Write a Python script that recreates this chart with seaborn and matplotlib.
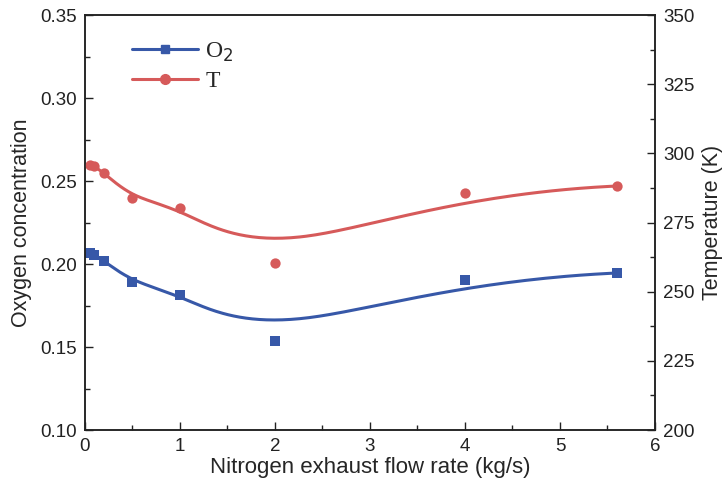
import numpy as np
import pandas as pd
import matplotlib
matplotlib.use("Agg")
import matplotlib.pyplot as plt
import seaborn as sns
from matplotlib.lines import Line2D
from matplotlib.ticker import MultipleLocator, FormatStrFormatter

# data
flow = [0.05, 0.1, 0.2, 0.5, 1.0, 2.0, 4.0, 5.6]
o2 = [0.2066, 0.2055, 0.2018, 0.1893, 0.1813, 0.1538, 0.1904, 0.1946]
temp = [295.8, 295.3, 293.0, 283.9, 280.2, 260.5, 285.7, 288.2]

blue = "#3758a8"
red = "#d65a5a"


def bspline(px, py, k=3, num=300):
    # clamped uniform B-spline with the data points as control points (Origin style "B-Spline" line)
    p = np.column_stack([px, py])
    n = len(p)
    knots = np.concatenate([np.zeros(k), np.arange(n - k + 1), np.full(k, n - k)]).astype(float)
    t = np.linspace(0, n - k, num)
    t[-1] -= 1e-9
    B = np.zeros((num, len(knots) - 1))
    for i in range(len(knots) - 1):
        B[:, i] = (knots[i] <= t) & (t < knots[i + 1])
    for d in range(1, k + 1):
        Bn = np.zeros((num, len(knots) - 1 - d))
        for i in range(len(knots) - 1 - d):
            a = knots[i + d] - knots[i]
            b = knots[i + d + 1] - knots[i + 1]
            left = (t - knots[i]) / a * B[:, i] if a > 0 else 0
            right = (knots[i + d + 1] - t) / b * B[:, i + 1] if b > 0 else 0
            Bn[:, i] = left + right
        B = Bn
    c = B @ p
    return pd.DataFrame({"x": c[:, 0], "y": c[:, 1]})


sns.set_style("ticks")
plt.rcParams["font.family"] = ["Liberation Sans", "DejaVu Sans"]

fig = plt.figure(figsize=(7.22, 4.9), dpi=100)
ax = fig.add_axes([0.1177, 0.1224, 0.7895, 0.8469])
ax2 = ax.twinx()

c1 = bspline(flow, o2)
c2 = bspline(flow, temp)
sns.lineplot(data=c1, x="x", y="y", sort=False, ax=ax, color=blue, lw=2.2)
sns.scatterplot(x=flow, y=o2, ax=ax, color=blue, marker="s", s=45, linewidth=0)
sns.lineplot(data=c2, x="x", y="y", sort=False, ax=ax2, color=red, lw=2.2)
sns.scatterplot(x=flow, y=temp, ax=ax2, color=red, marker="o", s=55, linewidth=0)

ax.set_xlim(0, 6)
ax.set_ylim(0.10, 0.35)
ax2.set_ylim(200, 350)
ax.xaxis.set_major_locator(MultipleLocator(1))
ax.xaxis.set_minor_locator(MultipleLocator(0.5))
ax.yaxis.set_major_locator(MultipleLocator(0.05))
ax.yaxis.set_minor_locator(MultipleLocator(0.025))
ax2.yaxis.set_major_locator(MultipleLocator(25))
ax2.yaxis.set_minor_locator(MultipleLocator(12.5))
ax.yaxis.set_major_formatter(FormatStrFormatter("%.2f"))

for a in (ax, ax2):
    a.tick_params(which="both", direction="in", labelsize=13.5, colors="#222222", pad=6)
    a.tick_params(which="major", length=6, width=1)
    a.tick_params(which="minor", length=3.5, width=1)
    for s in a.spines.values():
        s.set_color("#222222")
        s.set_linewidth(1.1)

ax.set_xlabel("Nitrogen exhaust flow rate (kg/s)", fontsize=16, labelpad=1)
ax.set_ylabel("Oxygen concentration", fontsize=15.5, labelpad=6)
ax2.set_ylabel("Temperature (K)", fontsize=15.5, labelpad=5)

handles = [Line2D([], [], color=blue, marker="s", markersize=6, lw=2.2),
           Line2D([], [], color=red, marker="o", markersize=7, lw=2.2)]
ax.legend(handles, ["O$_2$", "T"], loc="upper left", bbox_to_anchor=(0.045, 0.99),
          frameon=False, handlelength=2.8, handletextpad=0.3, labelspacing=0.3,
          prop={"family": "Liberation Serif", "size": 17})

fig.savefig("out.png", dpi=100)
